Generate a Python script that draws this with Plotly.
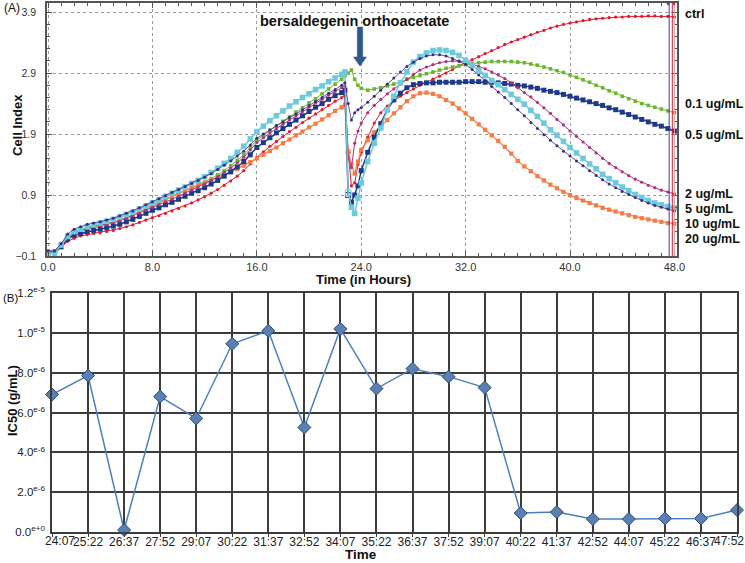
import plotly.graph_objects as go

W, H = 745, 563
FONT = "Arial, Liberation Sans, sans-serif"


def px_x(p):
    return p / W


def px_y(p):
    return 1 - p / H


# ---------------- Panel A data (Cell Index vs time) ----------------
hours = [0.0, 0.5, 1.0, 1.5, 2.0, 2.5, 3.0, 3.5, 4.0, 4.5, 5.0, 5.5, 6.0, 6.5, 7.0, 7.5,
         8.0, 8.5, 9.0, 9.5, 10.0, 10.5, 11.0, 11.5, 12.0, 12.5, 13.0, 13.5, 14.0, 14.5,
         15.0, 15.5, 16.0, 16.5, 17.0, 17.5, 18.0, 18.5, 19.0, 19.5, 20.0, 20.5, 21.0,
         21.5, 22.0, 22.5, 22.75, 23.0, 23.25, 23.5, 23.75, 24.0, 24.5, 25.0, 25.5, 26.0,
         26.5, 27.0, 27.5, 28.0, 28.5, 29.0, 29.5, 30.0, 30.5, 31.0, 31.5, 32.0, 32.5,
         33.0, 33.5, 34.0, 34.5, 35.0, 35.5, 36.0, 36.5, 37.0, 37.5, 38.0, 38.5, 39.0,
         39.5, 40.0, 40.5, 41.0, 41.5, 42.0, 42.5, 43.0, 43.5, 44.0, 44.5, 45.0, 45.5,
         46.0, 46.5, 47.0, 47.5, 48.0]

ci_ctrl = [-0.04, -0.04, 0.04, 0.14, 0.19, 0.23, 0.25, 0.27, 0.28, 0.30, 0.32, 0.35, 0.38, 0.41, 0.45, 0.49,
           0.53, 0.56, 0.60, 0.64, 0.68, 0.72, 0.77, 0.82, 0.87, 0.93, 0.99, 1.06, 1.13, 1.21, 1.30, 1.41,
           1.52, 1.61, 1.70, 1.78, 1.86, 1.94, 2.01, 2.09, 2.16, 2.23, 2.30, 2.37, 2.44, 2.50,
           2.53, 1.60, 1.05, 1.10, 1.40, 1.60,
           1.85, 2.08, 2.25, 2.36, 2.45, 2.52, 2.58, 2.64, 2.70, 2.75, 2.80, 2.85, 2.90, 2.96, 3.02, 3.07,
           3.12, 3.17, 3.22, 3.27, 3.32, 3.37, 3.41, 3.45, 3.49, 3.53, 3.57, 3.60, 3.64, 3.67, 3.70, 3.72,
           3.74, 3.76, 3.78, 3.79, 3.80, 3.81, 3.82, 3.82, 3.83, 3.83, 3.83, 3.84, 3.84, 3.83, 3.83, 3.82]

ci_0_1 = [-0.03, -0.08, 0.05, 0.22, 0.30, 0.34, 0.37, 0.39, 0.41, 0.43, 0.46, 0.49, 0.53, 0.57, 0.62, 0.67,
          0.72, 0.76, 0.81, 0.86, 0.91, 0.96, 1.01, 1.06, 1.11, 1.17, 1.23, 1.30, 1.38, 1.47, 1.56, 1.68,
          1.80, 1.88, 1.96, 2.03, 2.11, 2.18, 2.26, 2.33, 2.41, 2.48, 2.56, 2.64, 2.72, 2.80,
          2.86, 2.90, 2.95, 2.80, 2.70, 2.65,
          2.62, 2.64, 2.66, 2.69, 2.72, 2.76, 2.80, 2.83, 2.86, 2.89, 2.92, 2.95, 2.98, 3.00, 3.02, 3.04,
          3.06, 3.07, 3.08, 3.09, 3.09, 3.09, 3.09, 3.08, 3.07, 3.05, 3.03, 3.00, 2.97, 2.94, 2.91, 2.87,
          2.83, 2.79, 2.75, 2.70, 2.66, 2.61, 2.57, 2.52, 2.48, 2.44, 2.40, 2.37, 2.34, 2.31, 2.28, 2.25]

ci_0_5 = [-0.05, -0.04, 0.05, 0.18, 0.24, 0.27, 0.30, 0.32, 0.34, 0.36, 0.39, 0.42, 0.46, 0.50, 0.55, 0.60,
          0.65, 0.69, 0.74, 0.78, 0.83, 0.88, 0.93, 0.97, 1.02, 1.08, 1.14, 1.21, 1.28, 1.36, 1.45, 1.56,
          1.68, 1.76, 1.84, 1.92, 1.99, 2.06, 2.13, 2.20, 2.27, 2.34, 2.40, 2.47, 2.53, 2.58,
          2.62, 0.90, 0.78, 0.90, 1.05, 1.30,
          1.60, 1.85, 2.07, 2.30, 2.46, 2.57, 2.66, 2.71, 2.73, 2.74, 2.74, 2.75, 2.75, 2.75, 2.75, 2.76,
          2.76, 2.76, 2.75, 2.75, 2.74, 2.73, 2.72, 2.70, 2.69, 2.67, 2.65, 2.62, 2.60, 2.58, 2.55, 2.52,
          2.49, 2.46, 2.43, 2.40, 2.37, 2.33, 2.30, 2.26, 2.22, 2.18, 2.14, 2.10, 2.06, 2.03, 1.99, 1.95]

ci_2 = [-0.05, -0.05, 0.06, 0.20, 0.28, 0.32, 0.35, 0.38, 0.40, 0.42, 0.45, 0.48, 0.52, 0.56, 0.60, 0.65,
        0.70, 0.74, 0.79, 0.83, 0.88, 0.93, 0.98, 1.03, 1.08, 1.14, 1.20, 1.27, 1.34, 1.43, 1.52, 1.64,
        1.76, 1.84, 1.92, 1.99, 2.06, 2.13, 2.20, 2.27, 2.34, 2.41, 2.47, 2.54, 2.60, 2.66,
        2.69, 1.50, 1.35, 1.75, 1.95, 2.08,
        2.25, 2.37, 2.47, 2.56, 2.64, 2.72, 2.80, 2.88, 2.95, 3.00, 3.04, 3.07, 3.09, 3.10, 3.10, 3.08,
        3.05, 3.01, 2.97, 2.92, 2.87, 2.81, 2.74, 2.66, 2.58, 2.51, 2.42, 2.33, 2.24, 2.14, 2.05, 1.95,
        1.86, 1.77, 1.68, 1.59, 1.50, 1.42, 1.35, 1.28, 1.22, 1.16, 1.11, 1.06, 1.02, 0.98, 0.95, 0.92]

ci_5 = [-0.06, -0.05, 0.08, 0.22, 0.30, 0.34, 0.38, 0.41, 0.44, 0.47, 0.50, 0.54, 0.58, 0.62, 0.67, 0.72,
        0.77, 0.82, 0.88, 0.93, 0.98, 1.03, 1.09, 1.14, 1.20, 1.27, 1.34, 1.42, 1.50, 1.60, 1.70, 1.82,
        1.94, 2.03, 2.12, 2.20, 2.28, 2.36, 2.43, 2.50, 2.56, 2.63, 2.69, 2.76, 2.82, 2.88,
        2.92, 0.94, 0.70, 0.60, 0.85, 1.10,
        1.45, 1.75, 2.00, 2.30, 2.52, 2.74, 2.92, 3.08, 3.17, 3.23, 3.27, 3.28, 3.27, 3.24, 3.19, 3.11,
        3.03, 2.95, 2.86, 2.78, 2.71, 2.63, 2.55, 2.47, 2.39, 2.29, 2.19, 2.08, 1.97, 1.88, 1.78, 1.68,
        1.59, 1.50, 1.41, 1.33, 1.24, 1.17, 1.10, 1.03, 0.97, 0.91, 0.86, 0.81, 0.77, 0.74, 0.71, 0.69]

ci_10 = [-0.02, -0.02, 0.10, 0.26, 0.34, 0.38, 0.42, 0.44, 0.46, 0.49, 0.52, 0.56, 0.60, 0.64, 0.69, 0.74,
         0.79, 0.84, 0.89, 0.94, 0.99, 1.04, 1.09, 1.14, 1.19, 1.25, 1.32, 1.39, 1.46, 1.54, 1.62, 1.72,
         1.83, 1.90, 1.97, 2.04, 2.10, 2.17, 2.23, 2.30, 2.37, 2.44, 2.50, 2.57, 2.63, 2.70,
         2.74, 2.40, 2.13, 2.25, 2.30, 2.33,
         2.42, 2.52, 2.62, 2.72, 2.82, 2.92, 3.01, 3.08, 3.14, 3.18, 3.20, 3.20, 3.18, 3.14, 3.09, 3.04,
         2.96, 2.87, 2.78, 2.68, 2.59, 2.50, 2.40, 2.30, 2.20, 2.09, 1.99, 1.89, 1.80, 1.71, 1.62, 1.54,
         1.46, 1.38, 1.30, 1.22, 1.15, 1.08, 1.02, 0.96, 0.91, 0.86, 0.81, 0.77, 0.73, 0.70, 0.67, 0.64]

ci_20 = [-0.02, -0.02, 0.10, 0.22, 0.28, 0.31, 0.34, 0.36, 0.38, 0.41, 0.44, 0.48, 0.52, 0.57, 0.63, 0.68,
         0.74, 0.79, 0.84, 0.88, 0.93, 0.97, 1.02, 1.06, 1.10, 1.14, 1.19, 1.23, 1.28, 1.33, 1.38, 1.44,
         1.50, 1.56, 1.62, 1.68, 1.75, 1.81, 1.88, 1.94, 2.01, 2.07, 2.14, 2.21, 2.28, 2.34,
         2.38, 1.61, 1.40, 1.25, 1.45, 1.64,
         1.80, 1.93, 2.03, 2.13, 2.24, 2.34, 2.44, 2.52, 2.57, 2.58, 2.56, 2.52, 2.46, 2.40, 2.32, 2.24,
         2.15, 2.06, 1.97, 1.88, 1.79, 1.69, 1.58, 1.46, 1.37, 1.29, 1.21, 1.14, 1.07, 1.01, 0.95, 0.90,
         0.85, 0.81, 0.77, 0.73, 0.69, 0.66, 0.63, 0.60, 0.57, 0.54, 0.52, 0.50, 0.48, 0.46, 0.44, 0.43]

series_labels = ["ctrl", "0.1 ug/mL", "0.5 ug/mL", "2 ug/mL", "5 ug/mL", "10 ug/mL", "20 ug/mL"]

x_ticks_a = [0, 8, 16, 24, 32, 40, 48]
y_ticks_a = [-0.1, 0.9, 1.9, 2.9, 3.9]

# ---------------- Panel B data (IC50 vs time) ----------------
ic50_times = ["24:07", "25:22", "26:37", "27:52", "29:07", "30:22", "31:37", "32:52", "34:07", "35:22",
              "36:37", "37:52", "39:07", "40:22", "41:37", "42:52", "44:07", "45:22", "46:37", "47:52"]
ic50_values = [6.9e-6, 7.85e-6, 0.1e-6, 6.8e-6, 5.7e-6, 9.45e-6, 10.1e-6, 5.25e-6, 10.2e-6, 7.2e-6,
               8.2e-6, 7.8e-6, 7.25e-6, 0.95e-6, 1.0e-6, 0.65e-6, 0.65e-6, 0.68e-6, 0.68e-6, 1.1e-6]
y_ticks_b = [0, 2e-6, 4e-6, 6e-6, 8e-6, 1.0e-5, 1.2e-5]
y_ticktext_b = ["0.0<sup>e+0</sup>", "2.0<sup>e-6</sup>", "4.0<sup>e-6</sup>", "6.0<sup>e-6</sup>",
                "8.0<sup>e-6</sup>", "1.0<sup>e-5</sup>", "1.2<sup>e-5</sup>"]

# the first and last category labels sit slightly inside the plot edges; they are drawn as
# annotations below, so their axis tick text is left empty
x_ticktext_b = [""] + ic50_times[1:-1] + [""]

fig = go.Figure()

i23 = hours.index(23.0)


def syms(base, open_sym):
    s = [base] * len(hours)
    if open_sym:
        s[i23] = base + "-open"
    return s


# (values, color, line width, marker symbol, marker size, open marker at drop)
styles = [
    (ci_ctrl, "#e8182c", 1.0, "circle", 3.2, False),
    (ci_0_1, "#6cb62e", 1.0, "square", 3.6, False),
    (ci_20, "#f77a42", 1.2, "square", 4.2, True),
    (ci_0_5, "#1d3a8a", 1.5, "square", 5.0, True),
    (ci_2, "#b3307f", 1.0, "circle", 3.2, False),
    (ci_5, "#6ccadc", 1.5, "square", 5.6, True),
    (ci_10, "#3a2c86", 0.8, "circle", 3.0, False),
]
names = ["ctrl", "0.1 ug/mL", "20 ug/mL", "0.5 ug/mL", "2 ug/mL", "5 ug/mL", "10 ug/mL"]

for (vals, col, lw, sym, ms, op), nm in zip(styles, names):
    fig.add_trace(go.Scatter(
        x=hours, y=vals, mode="lines+markers", name=nm, showlegend=False,
        line=dict(color=col, width=lw),
        marker=dict(symbol=syms(sym, op), size=ms, color=col, line=dict(width=0)),
        xaxis="x", yaxis="y", cliponaxis=True,
    ))

fig.add_trace(go.Scatter(
    x=ic50_times, y=ic50_values, mode="lines+markers", showlegend=False,
    line=dict(color="#4a7fc0", width=1.5),
    marker=dict(symbol="diamond", size=10, color="#5a80b3", line=dict(color="#2d4a73", width=1)),
    xaxis="x2", yaxis="y2", cliponaxis=False,
))

# ---- axes ----
A_L, A_R, A_T, A_B = 47, 677, 3, 256
B_L, B_R, B_T, B_B = 52, 737, 293, 532

fig.update_layout(
    width=W, height=H, autosize=False,
    margin=dict(l=0, r=0, t=0, b=0, pad=0, autoexpand=False),
    paper_bgcolor="white", plot_bgcolor="white",
    font=dict(family=FONT, color="#222"),
    xaxis=dict(
        domain=[px_x(A_L), px_x(A_R)], anchor="y",
        range=[-0.08, 48.2], tickvals=x_ticks_a, tickformat=".1f",
        showgrid=True, gridcolor="#9a9a9a", griddash="dot", gridwidth=1,
        zeroline=False, showline=True, linecolor="#555", linewidth=1.5, mirror="ticks",
        ticks="inside", ticklen=5, tickcolor="#555",
        minor=dict(dtick=1, ticks="inside", ticklen=3, tickcolor="#555", showgrid=False),
        tickfont=dict(size=11, color="#333"),
    ),
    yaxis=dict(
        domain=[px_y(A_B), px_y(A_T)], anchor="x",
        range=[-0.1, 4.05], tickvals=y_ticks_a, tickformat=".1f",
        showgrid=True, gridcolor="#9a9a9a", griddash="dot", gridwidth=1,
        zeroline=False, showline=True, linecolor="#555", linewidth=1.5, mirror="ticks",
        ticks="inside", ticklen=5, tickcolor="#555",
        minor=dict(dtick=0.2, tick0=-0.1, ticks="inside", ticklen=3, tickcolor="#555", showgrid=False),
        tickfont=dict(size=10.5, color="#333"), ticklabelstandoff=7,
    ),
    xaxis2=dict(
        domain=[px_x(B_L), px_x(B_R)], anchor="y2", type="category",
        range=[0, len(ic50_times) - 1],
        tickvals=ic50_times, ticktext=x_ticktext_b, tickangle=0,
        showgrid=True, gridcolor="#3c3c3c", gridwidth=1.5,
        zeroline=False, showline=True, linecolor="#3c3c3c", linewidth=1.5, mirror=True,
        ticks="outside", ticklen=3, tickcolor="#3c3c3c",
        tickfont=dict(size=12, color="#222"), ticklabelstandoff=-5,
    ),
    yaxis2=dict(
        domain=[px_y(B_B), px_y(B_T)], anchor="x2",
        range=[0, 1.2e-5], tickvals=y_ticks_b, ticktext=y_ticktext_b,
        showgrid=True, gridcolor="#3c3c3c", gridwidth=1.5,
        zeroline=False, showline=True, linecolor="#3c3c3c", linewidth=1.5, mirror=True,
        ticks="", tickfont=dict(size=11.5, color="#222"), ticklabelstandoff=3,
    ),
)

# vertical marker lines near the end of panel A
for xv, col in [(47.6, "#3b3bbd"), (47.84, "#d11f2b"), (48.0, "#f0a0a0")]:
    fig.add_shape(type="line", xref="x", yref="y domain", x0=xv, x1=xv, y0=0, y1=1,
                  line=dict(color=col, width=1))

# arrow for the treatment point
ac = "#2e5a8a"
ax0, ax1 = 357.3, 362.7
hx0, hx1 = 353.5, 366.5
y_top, y_head, y_tip = 27, 57, 66
path = (f"M {px_x(ax0)} {px_y(y_top)} L {px_x(ax1)} {px_y(y_top)} L {px_x(ax1)} {px_y(y_head)} "
        f"L {px_x(hx1)} {px_y(y_head)} L {px_x((ax0 + ax1) / 2)} {px_y(y_tip)} "
        f"L {px_x(hx0)} {px_y(y_head)} L {px_x(ax0)} {px_y(y_head)} Z")
fig.add_shape(type="path", xref="paper", yref="paper", path=path,
              fillcolor=ac, line=dict(color=ac, width=0.5))

annotations = []


def ann(text, x, y, size=12, bold=False, xanchor="center", yanchor="middle", angle=0, color="#111"):
    annotations.append(dict(
        text=f"<b>{text}</b>" if bold else text, x=px_x(x), y=px_y(y), xref="paper", yref="paper",
        showarrow=False, xanchor=xanchor, yanchor=yanchor, textangle=angle,
        font=dict(family=FONT, size=size, color=color),
    ))


ann("(A)", 2, 8, size=12, xanchor="left")
ann("(B)", 1, 298, size=11.5, xanchor="left")
ann("bersaldegenin orthoacetate", 354, 21, size=14.5, bold=True)
ann("Cell Index", 17, 125, size=13, bold=True, angle=-90)
ann("Time (in Hours)", 363, 279, size=13, bold=True)
ann("IC50 (g/mL)", 12, 401, size=13, bold=True, angle=-90)
ann("Time", 361, 554, size=13.5, bold=True)

# edge category labels of panel B
ann(ic50_times[0], 60, 541, size=12, color="#222")
ann(ic50_times[-1], 729, 541, size=12, color="#222")

label_y = [14, 104, 135, 194, 209, 224, 239]
for lab, yy in zip(series_labels, label_y):
    ann(lab, 683, yy, size=12.5, bold=True, xanchor="left")

# small triangles marking the end cursors
ann("<span style='color:#3b3bbd'>▼</span><span style='color:#d11f2b'>▼</span>", 671, 4, size=6)

fig.update_layout(annotations=annotations)

fig.write_html("out.html", config={"displayModeBar": False},
               post_script="document.body.style.margin='0px';")
